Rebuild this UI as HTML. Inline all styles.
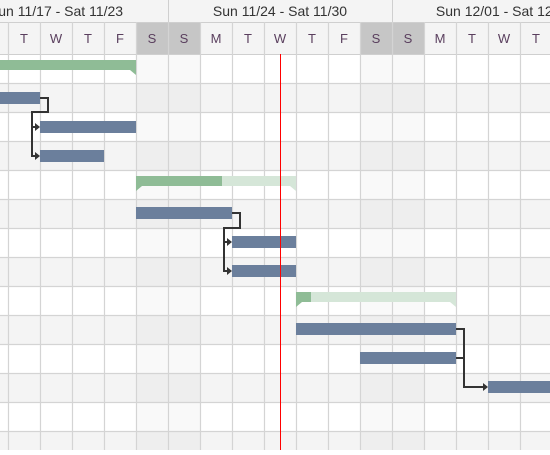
<!DOCTYPE html>
<html><head><style>
body{margin:0;width:550px;height:450px;overflow:hidden;background:#fff;font-family:"Liberation Sans",sans-serif}
</style></head><body>
<svg width="550" height="450" xmlns="http://www.w3.org/2000/svg" font-family="Liberation Sans, sans-serif">
<rect x="0" y="0" width="550" height="54" fill="#f4f4f4"/>
<rect x="136" y="22" width="64" height="32" fill="#c6c6c6"/>
<rect x="360" y="22" width="64" height="32" fill="#c6c6c6"/>
<g id="rows">
<rect x="0" y="83" width="550" height="29" fill="#f4f4f4"/>
<rect x="0" y="141" width="550" height="29" fill="#f4f4f4"/>
<rect x="0" y="199" width="550" height="29" fill="#f4f4f4"/>
<rect x="0" y="257" width="550" height="29" fill="#f4f4f4"/>
<rect x="0" y="315" width="550" height="29" fill="#f4f4f4"/>
<rect x="0" y="373" width="550" height="29" fill="#f4f4f4"/>
<rect x="0" y="431" width="550" height="29" fill="#f4f4f4"/>
</g>
<g fill="#000" fill-opacity="0.025">
<rect x="136" y="54" width="64" height="400"/>
<rect x="360" y="54" width="64" height="400"/>
</g>
<g stroke="#cfcfcf" stroke-width="1">
<line x1="0" y1="22.5" x2="550" y2="22.5"/>
<line x1="0" y1="54.5" x2="550" y2="54.5"/>
<line x1="168.5" y1="0" x2="168.5" y2="22"/>
<line x1="392.5" y1="0" x2="392.5" y2="22"/>
</g>
<g stroke="#d4d4d4" stroke-width="1.2">
<line x1="8.5" y1="22" x2="8.5" y2="450"/><line x1="40.5" y1="22" x2="40.5" y2="450"/>
<line x1="72.5" y1="22" x2="72.5" y2="450"/><line x1="104.5" y1="22" x2="104.5" y2="450"/>
<line x1="136.5" y1="22" x2="136.5" y2="450"/><line x1="168.5" y1="22" x2="168.5" y2="450"/>
<line x1="200.5" y1="22" x2="200.5" y2="450"/><line x1="232.5" y1="22" x2="232.5" y2="450"/>
<line x1="264.5" y1="22" x2="264.5" y2="450"/><line x1="296.5" y1="22" x2="296.5" y2="450"/>
<line x1="328.5" y1="22" x2="328.5" y2="450"/><line x1="360.5" y1="22" x2="360.5" y2="450"/>
<line x1="392.5" y1="22" x2="392.5" y2="450"/><line x1="424.5" y1="22" x2="424.5" y2="450"/>
<line x1="456.5" y1="22" x2="456.5" y2="450"/><line x1="488.5" y1="22" x2="488.5" y2="450"/>
<line x1="520.5" y1="22" x2="520.5" y2="450"/>
<line x1="0" y1="83.5" x2="550" y2="83.5"/><line x1="0" y1="112.5" x2="550" y2="112.5"/>
<line x1="0" y1="141.5" x2="550" y2="141.5"/><line x1="0" y1="170.5" x2="550" y2="170.5"/>
<line x1="0" y1="199.5" x2="550" y2="199.5"/><line x1="0" y1="228.5" x2="550" y2="228.5"/>
<line x1="0" y1="257.5" x2="550" y2="257.5"/><line x1="0" y1="286.5" x2="550" y2="286.5"/>
<line x1="0" y1="315.5" x2="550" y2="315.5"/><line x1="0" y1="344.5" x2="550" y2="344.5"/>
<line x1="0" y1="373.5" x2="550" y2="373.5"/><line x1="0" y1="402.5" x2="550" y2="402.5"/>
<line x1="0" y1="431.5" x2="550" y2="431.5"/>
</g>
<g font-size="14" fill="#333" text-anchor="middle">
<text x="56" y="16">Sun 11/17 - Sat 11/23</text>
<text x="280" y="16">Sun 11/24 - Sat 11/30</text>
<text x="504" y="16">Sun 12/01 - Sat 12/07</text>
</g>
<g font-size="13" fill="#5a3f5e" text-anchor="middle">
<text x="24" y="43">T</text><text x="56" y="43">W</text><text x="88" y="43">T</text><text x="120" y="43">F</text>
<text x="152" y="43">S</text><text x="184" y="43">S</text><text x="216" y="43">M</text><text x="248" y="43">T</text>
<text x="280" y="43">W</text><text x="312" y="43">T</text><text x="344" y="43">F</text><text x="376" y="43">S</text>
<text x="408" y="43">S</text><text x="440" y="43">M</text><text x="472" y="43">T</text><text x="504" y="43">W</text><text x="536" y="43">T</text>
</g>
<!-- summaries -->
<rect x="0" y="60" width="136" height="10" fill="#8fbc96"/>
<polygon points="130,70 136,70 136,75" fill="#8fbc96"/>
<rect x="136" y="176" width="160" height="10" fill="#d5e6d8"/>
<rect x="136" y="176" width="86" height="10" fill="#8fbc96"/>
<polygon points="136,186 142,186 136,191" fill="#8fbc96"/>
<polygon points="290,186 296,186 296,191" fill="#d5e6d8"/>
<rect x="296" y="292" width="160" height="10" fill="#d5e6d8"/>
<rect x="296" y="292" width="15" height="10" fill="#8fbc96"/>
<polygon points="296,302 302,302 296,307" fill="#8fbc96"/>
<polygon points="450,302 456,302 456,307" fill="#d5e6d8"/>
<!-- tasks -->
<g fill="#6b7f9c">
<rect x="0" y="92" width="40" height="12"/>
<rect x="40" y="121" width="96" height="12"/>
<rect x="40" y="150" width="64" height="12"/>
<rect x="136" y="207" width="96" height="12"/>
<rect x="232" y="236" width="64" height="12"/>
<rect x="232" y="265" width="64" height="12"/>
<rect x="296" y="323" width="160" height="12"/>
<rect x="360" y="352" width="96" height="12"/>
<rect x="488" y="381" width="62" height="12"/>
</g>
<!-- connectors -->
<g fill="none" stroke="#333" stroke-width="2">
<polyline points="40,98 48,98 48,112 32,112 32,127 36,127"/>
<polyline points="32,127 32,156 36,156"/>
<polyline points="232,213 240,213 240,228 224,228 224,242 228,242"/>
<polyline points="224,242 224,271 228,271"/>
<polyline points="456,329 464,329 464,387 484,387"/>
<polyline points="456,358 464,358"/>
</g>
<g fill="#333">
<polygon points="35,123 40,127 35,131"/><polygon points="35,152 40,156 35,160"/>
<polygon points="227,238 232,242 227,246"/><polygon points="227,267 232,271 227,275"/>
<polygon points="483,383 488,387 483,391"/>
</g>
<line x1="280.5" y1="54" x2="280.5" y2="450" stroke="#f00" stroke-width="1"/>
</svg>
</body></html>
